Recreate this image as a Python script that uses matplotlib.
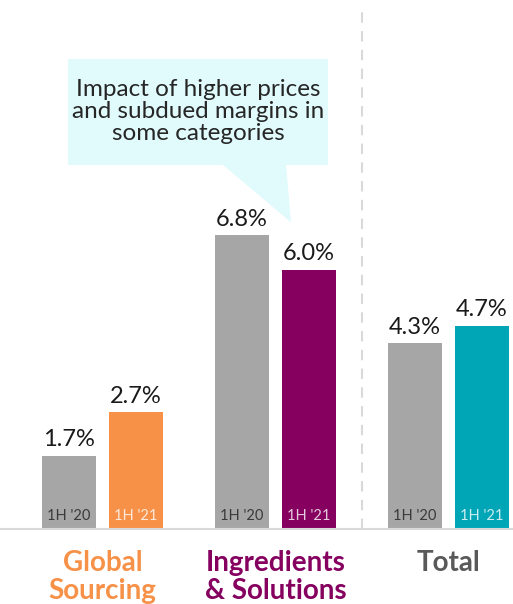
import matplotlib.pyplot as plt
from matplotlib.patches import Polygon, Rectangle

categories = ['Global\nSourcing', 'Ingredients\n& Solutions', 'Total']
cat_colors = ['#f79148', '#85005f', '#595959']
prev_vals = [1.7, 6.8, 4.3]
curr_vals = [2.7, 6.0, 4.7]
curr_colors = ['#f79148', '#85005f', '#00a6b6']
prev_label = "1H '20"
curr_label = "1H '21"
callout = 'Impact of higher prices\nand subdued margins in\nsome categories'

plt.rcParams['font.family'] = ['Lato', 'DejaVu Sans']

fig = plt.figure(figsize=(5.13, 6.04), dpi=100)
ax = fig.add_axes([0, 1 - 529 / 604, 1, 529 / 604])
ax.set_xlim(-0.592, 2.373)
ax.set_ylim(0, 12.25)
ax.axis('off')

w = 0.312
off = 0.194
for i in range(len(categories)):
    xp = i - off
    xc = i + off
    ax.bar(xp, prev_vals[i], width=w, color='#a6a6a6')
    ax.bar(xc, curr_vals[i], width=w, color=curr_colors[i])
    ax.annotate(f'{prev_vals[i]:.1f}%', (xp, prev_vals[i]), xytext=(0, 4),
                textcoords='offset points', ha='center', va='bottom',
                fontsize=17, color='#1a1a1a')
    ax.annotate(f'{curr_vals[i]:.1f}%', (xc, curr_vals[i]), xytext=(0, 4),
                textcoords='offset points', ha='center', va='bottom',
                fontsize=17, color='#1a1a1a')
    ax.annotate(prev_label, (xp, 0), xytext=(0, 4), textcoords='offset points',
                ha='center', va='bottom', fontsize=10.5, color='#3a3a3a')
    ax.annotate(curr_label, (xc, 0), xytext=(0, 4), textcoords='offset points',
                ha='center', va='bottom', fontsize=10.5, color='white', alpha=0.8)
    ax.annotate(categories[i], (i, 0), xytext=(0, -15), textcoords='offset points',
                ha='center', va='top', fontsize=20, fontweight='bold',
                color=cat_colors[i], linespacing=1.1, annotation_clip=False)

# baseline and separator
ax.axhline(0, color='#d9d9d9', lw=1.5, clip_on=False)
ax.plot([1.5, 1.5], [0, 11.97], color='#d9d9d9', lw=1.5, ls=(0, (5, 4)))

# callout box
box_color = '#e1fbfd'
ax.add_patch(Rectangle((-0.199, 8.43), 1.502, 2.45, color=box_color, lw=0))
ax.add_patch(Polygon([(0.691, 8.45), (1.061, 8.45), (1.090, 7.1)],
                     closed=True, color=box_color, lw=0))
ax.text(0.552, 9.66, callout, ha='center', va='center', fontsize=17.5,
        color='#262626', linespacing=1.05)

fig.savefig('out.png', dpi=100)
